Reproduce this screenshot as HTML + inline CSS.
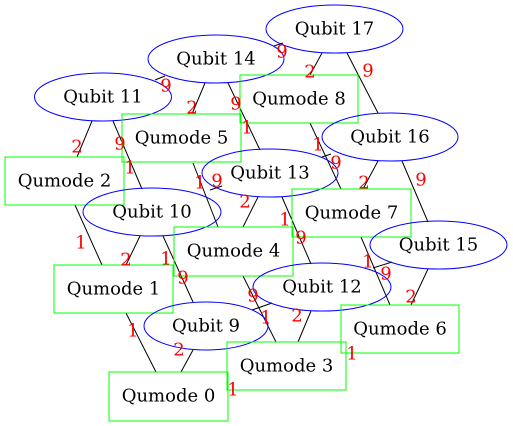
<!DOCTYPE html>
<html><head><meta charset="utf-8"><style>
html,body{margin:0;padding:0;background:#fff;width:513px;height:426px;overflow:hidden}
svg{display:block}
.n{font-family:"DejaVu Serif",serif;font-size:18px;fill:#000;text-anchor:middle;dominant-baseline:central}
.l{font-family:"DejaVu Serif",serif;font-size:18px;fill:#f00;text-anchor:middle;dominant-baseline:central}
line{stroke:#000;stroke-width:1}
ellipse{fill:none;stroke:#00f;stroke-width:1}
rect{fill:none;stroke:#0f0;stroke-width:1}
</style></head><body>
<svg width="513" height="426" viewBox="0 0 513 426">
<line x1="322" y1="53" x2="310" y2="75"/>
<line x1="347" y1="53" x2="378" y2="113"/>
<line x1="274" y1="46" x2="283" y2="43"/>
<line x1="205" y1="83" x2="192" y2="114"/>
<line x1="228" y1="83" x2="260" y2="150"/>
<line x1="155" y1="80" x2="165" y2="76"/>
<line x1="92" y1="121" x2="77" y2="157"/>
<line x1="113" y1="121" x2="142" y2="189"/>
<line x1="310" y1="123" x2="341" y2="189"/>
<line x1="322" y1="157" x2="331" y2="154"/>
<line x1="378" y1="161" x2="363" y2="189"/>
<line x1="402" y1="161" x2="428" y2="222"/>
<line x1="193" y1="163" x2="218" y2="227"/>
<line x1="210" y1="190" x2="222" y2="186"/>
<line x1="258" y1="197" x2="243" y2="227"/>
<line x1="282" y1="197" x2="311" y2="264"/>
<line x1="75" y1="205" x2="102" y2="265"/>
<line x1="140" y1="236" x2="126" y2="265"/>
<line x1="163" y1="236" x2="193" y2="302"/>
<line x1="243" y1="276" x2="276" y2="342"/>
<line x1="252" y1="310" x2="272" y2="303"/>
<line x1="311" y1="311" x2="298" y2="342"/>
<line x1="361" y1="237" x2="390" y2="305"/>
<line x1="373" y1="268" x2="392" y2="262"/>
<line x1="428" y1="269" x2="411" y2="305"/>
<line x1="126" y1="313" x2="156" y2="372"/>
<line x1="193" y1="350" x2="181" y2="372"/>
<ellipse cx="334.5" cy="29" rx="68.5" ry="24"/><text class="n" x="334.5" y="29">Qubit 17</text>
<ellipse cx="216" cy="59" rx="68" ry="24"/><text class="n" x="216" y="59">Qubit 14</text>
<ellipse cx="103" cy="97" rx="68.5" ry="24"/><text class="n" x="103" y="97">Qubit 11</text>
<rect x="240" y="75" width="118" height="48"/><text class="n" x="299" y="99">Qumode 8</text>
<rect x="122" y="114" width="119" height="48"/><text class="n" x="181.5" y="138">Qumode 5</text>
<ellipse cx="390" cy="137" rx="68" ry="24"/><text class="n" x="390" y="137">Qubit 16</text>
<ellipse cx="270" cy="173" rx="68" ry="24"/><text class="n" x="270" y="173">Qubit 13</text>
<rect x="5" y="157" width="119" height="48"/><text class="n" x="64.5" y="181">Qumode 2</text>
<ellipse cx="152" cy="212" rx="69" ry="24"/><text class="n" x="152" y="212">Qubit 10</text>
<rect x="292" y="189" width="119" height="48"/><text class="n" x="351.5" y="213">Qumode 7</text>
<rect x="174" y="227" width="119" height="49"/><text class="n" x="233.5" y="251">Qumode 4</text>
<ellipse cx="438.5" cy="245" rx="68.5" ry="24"/><text class="n" x="438.5" y="245">Qubit 15</text>
<ellipse cx="322" cy="287" rx="69" ry="24"/><text class="n" x="322" y="287">Qubit 12</text>
<rect x="54" y="265" width="119" height="48"/><text class="n" x="113.5" y="289">Qumode 1</text>
<ellipse cx="206" cy="326" rx="62" ry="24"/><text class="n" x="206" y="326">Qubit 9</text>
<rect x="341" y="305" width="118" height="48"/><text class="n" x="400" y="329">Qumode 6</text>
<rect x="227" y="342" width="119" height="48"/><text class="n" x="286.5" y="366">Qumode 3</text>
<rect x="109" y="372" width="119" height="49"/><text class="n" x="168.5" y="396">Qumode 0</text>
<text class="l" x="310" y="72">2</text>
<text class="l" x="368" y="71">9</text>
<text class="l" x="282" y="52">9</text>
<text class="l" x="192" y="108">2</text>
<text class="l" x="236" y="104">9</text>
<text class="l" x="247" y="128">1</text>
<text class="l" x="166" y="86">9</text>
<text class="l" x="77" y="147">2</text>
<text class="l" x="120" y="144">9</text>
<text class="l" x="130" y="168">1</text>
<text class="l" x="318" y="145">1</text>
<text class="l" x="336" y="163">9</text>
<text class="l" x="364" y="183">2</text>
<text class="l" x="421" y="180">9</text>
<text class="l" x="200" y="183">1</text>
<text class="l" x="217" y="181">9</text>
<text class="l" x="245" y="202">2</text>
<text class="l" x="285" y="220">1</text>
<text class="l" x="301" y="238">9</text>
<text class="l" x="81" y="243">1</text>
<text class="l" x="126" y="260">2</text>
<text class="l" x="166" y="259">1</text>
<text class="l" x="183" y="278">9</text>
<text class="l" x="253" y="296">9</text>
<text class="l" x="266" y="318">1</text>
<text class="l" x="297" y="316">2</text>
<text class="l" x="368" y="262">1</text>
<text class="l" x="386" y="274">9</text>
<text class="l" x="411" y="297">2</text>
<text class="l" x="133" y="331">1</text>
<text class="l" x="179" y="350">2</text>
<text class="l" x="233" y="390">1</text>
<text class="l" x="352" y="354">1</text>
</svg>
</body></html>
